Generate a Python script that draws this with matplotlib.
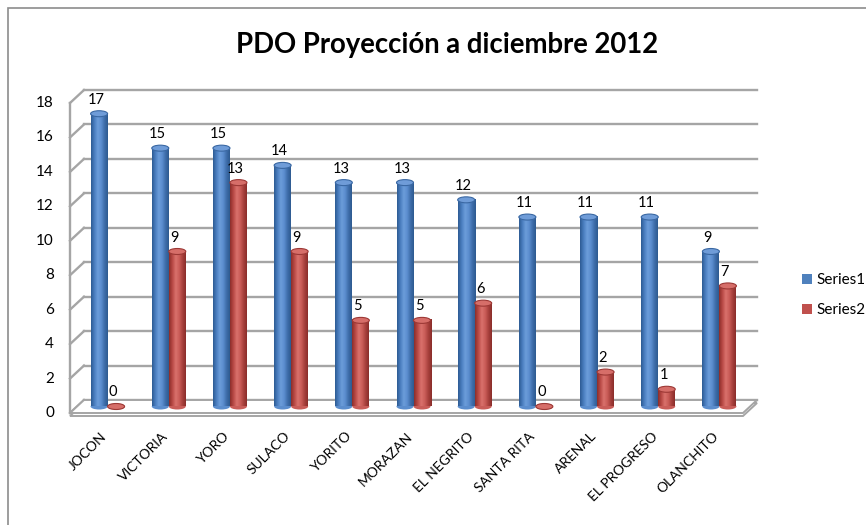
import numpy as np
import matplotlib
matplotlib.use('Agg')
import matplotlib.pyplot as plt
from matplotlib.colors import LinearSegmentedColormap
from matplotlib.patches import Ellipse, Polygon, Patch, Rectangle
from matplotlib.transforms import offset_copy

# data
categories = ['JOCON', 'VICTORIA', 'YORO', 'SULACO', 'YORITO', 'MORAZAN',
              'EL NEGRITO', 'SANTA RITA', 'ARENAL', 'EL PROGRESO', 'OLANCHITO']
series1 = [17, 15, 15, 14, 13, 13, 12, 11, 11, 11, 9]
series2 = [0, 9, 13, 9, 5, 5, 6, 0, 2, 1, 7]
series_names = ['Series1', 'Series2']
y_ticks = [0, 2, 4, 6, 8, 10, 12, 14, 16, 18]
title = 'PDO Proyección a diciembre 2012'

# fake 3d depth in pixels
DEPTH_X = 14
DEPTH_Y = 13
GRID = '#A5A5A5'


def draw_cylinder(ax, tr, x, value, width, cap_h, cmap, top_face, top_edge):
    ax.add_patch(Ellipse((x, 0), width, cap_h, transform=tr, facecolor=cmap(0.3),
                         edgecolor='none', zorder=3))
    if value > 0:
        grad = np.linspace(0, 1, 64).reshape(1, -1)
        im = ax.imshow(grad, cmap=cmap, extent=(x - width / 2, x + width / 2, 0, value),
                       aspect='auto', interpolation='bilinear', zorder=3.1)
        im.set_transform(tr)
    ax.add_patch(Ellipse((x, value), width, cap_h, transform=tr, facecolor=top_face,
                         edgecolor=top_edge, linewidth=0.8, zorder=3.2))


def main():
    plt.rcParams['font.family'] = ['Lato', 'DejaVu Sans']

    fig = plt.figure(figsize=(8.66, 5.25), dpi=100)
    ax = fig.add_axes([70 / 866, (525 - 413) / 525, 673 / 866, 310 / 525])
    ax.axis('off')
    n = len(categories)
    xmin, xmax = -0.5, n - 0.5
    ax.set_xlim(xmin, xmax)
    ax.set_ylim(0, 18)

    p0, p1 = ax.transData.transform([(0, 0), (1, 1)])
    px_x, px_y = p1 - p0
    ddx = DEPTH_X / px_x
    ddy = DEPTH_Y / px_y

    back = offset_copy(ax.transData, fig=fig, x=DEPTH_X, y=DEPTH_Y, units='dots')
    mid = offset_copy(ax.transData, fig=fig, x=DEPTH_X / 2, y=DEPTH_Y / 2, units='dots')

    # walls and gridlines
    for v in y_ticks:
        ax.plot([xmin, xmax], [v, v], transform=back, color=GRID, lw=1.7,
                clip_on=False, zorder=1)
        ax.plot([xmin, xmin + ddx], [v, v + ddy], color=GRID, lw=1.7,
                clip_on=False, zorder=1)
        ax.text(xmin, v, str(v), transform=offset_copy(ax.transData, fig=fig, x=-16, y=0, units='dots'),
                ha='right', va='center', fontsize=11, color='black')
    ax.plot([xmin, xmin], [0, 18], color=GRID, lw=1.7, clip_on=False, zorder=1)

    # floor
    floor = [(xmin, 0), (xmax, 0), (xmax + ddx, ddy), (xmin + ddx, ddy)]
    slab = offset_copy(ax.transData, fig=fig, x=0, y=-3, units='dots')
    ax.add_patch(Polygon(floor, closed=True, transform=slab, facecolor='white',
                         edgecolor=GRID, lw=1.4, clip_on=False, zorder=1.5))
    ax.add_patch(Polygon(floor, closed=True, facecolor='white', edgecolor=GRID,
                         lw=1.4, clip_on=False, zorder=1.6))

    blue_cmap = LinearSegmentedColormap.from_list(
        'blue', ['#2D5B93', '#4A7EC0', '#6C9DDA', '#5C8ECF', '#3F6EAB', '#2D5A90'])
    red_cmap = LinearSegmentedColormap.from_list(
        'red', ['#8C2E2B', '#B94A46', '#D9716C', '#CB5E59', '#A8413D', '#8A2D2A'])

    width = 17 / px_x
    cap_h = 6 / px_y
    label_tr = offset_copy(ax.transData, fig=fig, x=DEPTH_X / 2 - 3, y=DEPTH_Y / 2 + 7, units='dots')
    for i in range(n):
        xb = i - width / 2
        xr = i + width / 2
        draw_cylinder(ax, mid, xb, series1[i], width, cap_h, blue_cmap, '#6F9CD8', '#3A68A3')
        draw_cylinder(ax, mid, xr, series2[i], width, cap_h, red_cmap, '#D66E69', '#9C3835')
        ax.text(xb, series1[i], str(series1[i]), transform=label_tr, ha='center', va='bottom',
                fontsize=10.5, zorder=5)
        ax.text(xr, series2[i], str(series2[i]), transform=label_tr, ha='center', va='bottom',
                fontsize=10.5, zorder=5)

    ax.set_xlim(xmin, xmax)
    ax.set_ylim(0, 18)

    # category labels
    cat_tr = offset_copy(ax.transData, fig=fig, x=0, y=-17, units='dots')
    for i, name in enumerate(categories):
        ax.text(i, 0, name, transform=cat_tr, rotation=45, ha='right', va='top',
                rotation_mode='anchor', fontsize=10)

    # legend
    handles = [Patch(facecolor='#4F81BD'), Patch(facecolor='#C0504D')]
    fig.legend(handles, series_names, loc='upper left', bbox_to_anchor=(802 / 866, 1 - 273 / 525),
               frameon=False, fontsize=11, handlelength=0.65, handleheight=0.65,
               handletextpad=0.3, labelspacing=1.05, borderaxespad=0, borderpad=0)

    fig.text(447 / 866, 1 - 45 / 525, title, ha='center', va='center',
             fontsize=19.8, fontweight='bold')

    # chart border
    fig.patches.append(Rectangle((8 / 866, -0.1), 1.5, 1.1 - 8 / 525, transform=fig.transFigure,
                                 fill=False, edgecolor='#8C8C8C', lw=1.2))

    fig.savefig('out.png', dpi=100)


if __name__ == "__main__":
    main()
